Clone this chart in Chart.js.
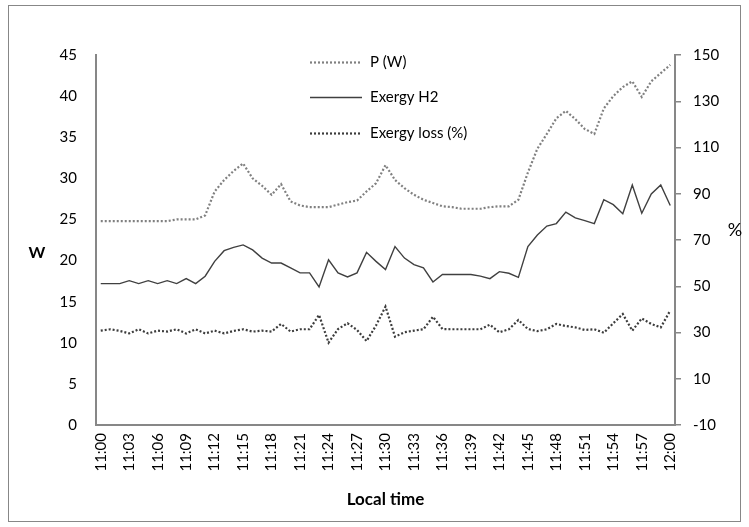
<!DOCTYPE html>
<html>
<head>
<meta charset="utf-8">
<script src="https://cdn.jsdelivr.net/npm/chart.js@4/dist/chart.umd.min.js"></script>
<style>
  html, body { margin: 0; padding: 0; background: #ffffff; }
  canvas { display: block; }
</style>
</head>
<body>
<canvas id="chart" width="749" height="527"></canvas>
<script>
// Minute-by-minute readings, 11:00 to 12:00
const minutes = [
  '11:00','11:01','11:02','11:03','11:04','11:05','11:06','11:07','11:08','11:09',
  '11:10','11:11','11:12','11:13','11:14','11:15','11:16','11:17','11:18','11:19',
  '11:20','11:21','11:22','11:23','11:24','11:25','11:26','11:27','11:28','11:29',
  '11:30','11:31','11:32','11:33','11:34','11:35','11:36','11:37','11:38','11:39',
  '11:40','11:41','11:42','11:43','11:44','11:45','11:46','11:47','11:48','11:49',
  '11:50','11:51','11:52','11:53','11:54','11:55','11:56','11:57','11:58','11:59',
  '12:00'
];

// Electrical power, W (left axis)
const powerW = [
  24.8, 24.8, 24.8, 24.8, 24.8, 24.8, 24.8, 24.8, 25.0, 25.0,
  25.0, 25.5, 28.4, 29.8, 30.9, 31.8, 30.0, 29.1, 28.0, 29.3,
  27.2, 26.7, 26.5, 26.5, 26.5, 26.8, 27.1, 27.3, 28.4, 29.4,
  31.6, 29.8, 28.8, 28.0, 27.4, 27.0, 26.6, 26.5, 26.3, 26.3,
  26.3, 26.5, 26.6, 26.6, 27.4, 30.7, 33.6, 35.4, 37.3, 38.2,
  37.2, 36.0, 35.4, 38.5, 40.0, 41.1, 41.8, 39.9, 41.8, 42.8,
  43.8
];

// Exergy of the produced hydrogen, W (left axis)
const exergyH2 = [
  17.2, 17.2, 17.2, 17.55, 17.2, 17.55, 17.2, 17.55, 17.2, 17.8,
  17.2, 18.1, 19.9, 21.2, 21.6, 21.9, 21.3, 20.3, 19.7, 19.7,
  19.1, 18.5, 18.5, 16.8, 20.1, 18.5, 18.0, 18.5, 21.0, 19.9,
  18.9, 21.7, 20.3, 19.5, 19.1, 17.4, 18.3, 18.3, 18.3, 18.3,
  18.1, 17.8, 18.65, 18.45, 17.95, 21.7, 23.1, 24.2, 24.5, 25.9,
  25.2, 24.85, 24.5, 27.4, 26.8, 25.7, 29.2, 25.75, 28.1, 29.2,
  26.7
];

// Exergy loss, % (right axis)
const exergyLossPct = [
  30.8, 31.4, 30.7, 29.6, 31.4, 29.6, 30.8, 30.4, 31.4, 29.6,
  31.4, 29.6, 30.8, 29.6, 30.7, 31.4, 30.4, 30.8, 30.4, 33.7,
  30.4, 31.4, 31.4, 37.6, 25.6, 31.5, 34.0, 31.1, 26.3, 33.0,
  41.2, 28.2, 30.1, 30.8, 31.4, 36.8, 31.5, 31.4, 31.4, 31.4,
  31.4, 33.4, 30.1, 31.4, 35.4, 31.5, 30.6, 31.4, 33.7, 32.8,
  32.2, 31.1, 31.4, 29.9, 34.0, 38.0, 30.8, 36.1, 33.7, 32.2,
  39.5
];

const seriesNames = ['P (W)', 'Exergy H2', 'Exergy loss (%)'];
const leftAxisTitle = 'W';
const rightAxisTitle = '%';
const xAxisTitle = 'Local time';

const FONT = 'Lato, "Open Sans", sans-serif';
const AXIS_GREY = '#878787';

// White page, outer frame, axis titles and the in-plot legend
const decorations = {
  id: 'decorations',
  beforeDraw(chart) {
    const ctx = chart.ctx;
    ctx.save();
    ctx.fillStyle = '#ffffff';
    ctx.fillRect(0, 0, chart.width, chart.height);
    ctx.strokeStyle = AXIS_GREY;
    ctx.lineWidth = 1;
    ctx.strokeRect(8.5, 5.5, 732, 516);
    ctx.restore();
  },
  afterDraw(chart) {
    const ctx = chart.ctx;
    const area = chart.chartArea;
    ctx.save();
    ctx.fillStyle = '#000000';
    ctx.textAlign = 'center';
    ctx.textBaseline = 'middle';
    ctx.font = 'bold 16px ' + FONT;
    ctx.fillText(leftAxisTitle, 37, 253);
    ctx.font = '18px ' + FONT;
    ctx.fillText(rightAxisTitle, 735, 230);
    ctx.font = 'bold 17px ' + FONT;
    ctx.fillText(xAxisTitle, (area.left + area.right) / 2, 500);

    // legend entries stacked inside the plot
    const rows = [62, 97, 133];
    chart.data.datasets.forEach((ds, i) => {
      const y = rows[i] + 0.5;
      ctx.beginPath();
      ctx.strokeStyle = ds.borderColor;
      ctx.lineWidth = ds.borderWidth;
      ctx.setLineDash(ds.borderDash || []);
      ctx.moveTo(310, y);
      ctx.lineTo(362, y);
      ctx.stroke();
      ctx.setLineDash([]);
      ctx.fillStyle = '#000000';
      ctx.textAlign = 'left';
      ctx.font = '15px ' + FONT;
      ctx.fillText(ds.label, 370, y);
    });
    ctx.restore();
  }
};

new Chart(document.getElementById('chart'), {
  type: 'line',
  data: {
    labels: minutes,
    datasets: [
      {
        label: seriesNames[0],
        data: powerW,
        yAxisID: 'y',
        borderColor: '#808080',
        borderWidth: 2.2,
        borderDash: [2, 2],
        pointRadius: 0,
        tension: 0,
        fill: false
      },
      {
        label: seriesNames[1],
        data: exergyH2,
        yAxisID: 'y',
        borderColor: '#404040',
        borderWidth: 1.4,
        pointRadius: 0,
        tension: 0,
        fill: false
      },
      {
        label: seriesNames[2],
        data: exergyLossPct,
        yAxisID: 'y1',
        borderColor: '#3c3c3c',
        borderWidth: 2.2,
        borderDash: [2, 2],
        pointRadius: 0,
        tension: 0,
        fill: false
      }
    ]
  },
  options: {
    responsive: false,
    animation: false,
    layout: { padding: { top: 55, left: 0, right: 0, bottom: 0 } },
    plugins: {
      legend: { display: false },
      tooltip: { enabled: false }
    },
    scales: {
      x: {
        type: 'category',
        offset: true,
        grid: { display: true, drawOnChartArea: false, drawTicks: false },
        border: { display: true, color: AXIS_GREY, width: 2 },
        ticks: {
          autoSkip: false,
          minRotation: 90,
          maxRotation: 90,
          padding: 8,
          color: '#000000',
          font: { family: FONT, size: 15 },
          callback(value, index) {
            return index % 3 === 0 ? this.getLabelForValue(value) : '';
          }
        },
        afterFit(scale) { scale.height = 102; }
      },
      y: {
        position: 'left',
        min: 0,
        max: 45,
        grid: { display: true, drawOnChartArea: false, drawTicks: false },
        border: { display: true, color: AXIS_GREY, width: 2 },
        ticks: {
          stepSize: 5,
          padding: 19,
          color: '#000000',
          font: { family: FONT, size: 15 }
        },
        afterFit(scale) { scale.width = 96; }
      },
      y1: {
        position: 'right',
        min: -10,
        max: 150,
        grid: {
          display: true,
          drawOnChartArea: false,
          drawTicks: true,
          tickLength: 6,
          color: AXIS_GREY,
          lineWidth: 1.5
        },
        border: { display: true, color: AXIS_GREY, width: 2 },
        ticks: {
          stepSize: 20,
          padding: 12,
          color: '#000000',
          font: { family: FONT, size: 15 }
        },
        afterFit(scale) { scale.width = 74; }
      }
    }
  },
  plugins: [decorations]
});
</script>
</body>
</html>
